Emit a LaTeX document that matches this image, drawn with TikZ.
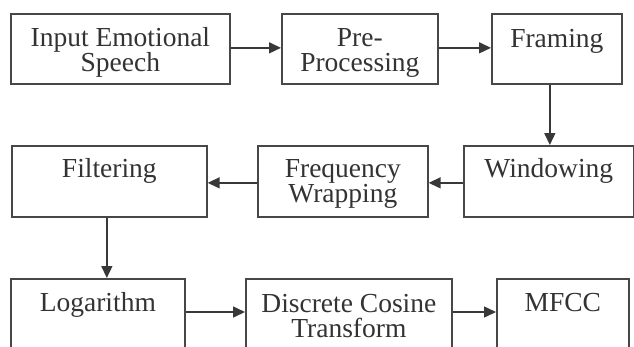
\documentclass[tikz,border=0pt]{standalone}
\usepackage{fontspec}
\setmainfont{Liberation Serif}
\usetikzlibrary{arrows.meta}
\begin{document}
\begin{tikzpicture}[x=1pt,y=-1pt,
  box/.style={draw=black!72, line width=1.7pt, anchor=north west, inner sep=0pt},
  lbl/.style={anchor=base, align=center, font=\fontsize{27.5}{25}\selectfont, text=black!80, inner sep=0pt},
  arr/.style={draw=black!78, line width=1.5pt, -{Triangle[length=12pt,width=11pt]}}]
\useasboundingbox (0,0) rectangle (634,346);
\clip (0,0) rectangle (634,346);
\fill[white] (0,0) rectangle (634,346);
% row 1
\node[box, minimum width=219pt, minimum height=70pt] (A) at (10,13) {};
\node[box, minimum width=156pt, minimum height=70pt] (B) at (281,13) {};
\node[box, minimum width=130pt, minimum height=70pt] (C) at (491,13) {};
% row 2
\node[box, minimum width=170pt, minimum height=71pt] (W) at (463,145) {};
\node[box, minimum width=170pt, minimum height=71pt] (FW) at (257,145) {};
\node[box, minimum width=195pt, minimum height=71pt] (F) at (11,145) {};
% row 3
\node[box, minimum width=174pt, minimum height=90pt] (L) at (10,278) {};
\node[box, minimum width=206pt, minimum height=90pt] (D) at (245,278) {};
\node[box, minimum width=132pt, minimum height=90pt] (M) at (496,278) {};
% labels (base anchor = baseline of last line)
\node[lbl] (tA) at ([yshift=-58pt]A.north) {Input Emotional\\Speech};
\node[lbl] (tB) at ([yshift=-58pt]B.north) {Pre-\\Processing};
\node[lbl] (tC) at ([yshift=-34pt]C.north) {Framing};
\node[lbl] (tW) at ([yshift=-32pt]W.north) {Windowing};
\node[lbl] (tFW) at ([yshift=-57pt]FW.north) {Frequency\\Wrapping};
\node[lbl] (tF) at ([yshift=-32pt]F.north) {Filtering};
\node[lbl] (tL) at ([yshift=-33pt]L.north) {Logarithm};
\node[lbl] (tD) at ([yshift=-59pt]D.north) {Discrete Cosine\\Transform};
\node[lbl] (tM) at ([yshift=-33pt]M.north) {MFCC};
% connectors
\draw[arr] ([yshift=1pt]A.east) -- ([yshift=1pt]B.west);
\draw[arr] ([yshift=1pt]B.east) -- ([yshift=1pt]C.west);
\draw[arr] ([xshift=-7pt]C.south) -- ([xshift=-7pt]C.south |- W.north);
\draw[arr] ([yshift=-1.5pt]W.west) -- ([yshift=-1.5pt]FW.east);
\draw[arr] ([yshift=-1.5pt]FW.west) -- ([yshift=-1.5pt]F.east);
\draw[arr] ([xshift=-2.5pt]F.south) -- ([xshift=-2.5pt]F.south |- L.north);
\draw[arr] ([yshift=-34pt]L.north east) -- ([yshift=-34pt]D.north west);
\draw[arr] ([yshift=-34pt]D.north east) -- ([yshift=-34pt]M.north west);
\end{tikzpicture}
\end{document}
